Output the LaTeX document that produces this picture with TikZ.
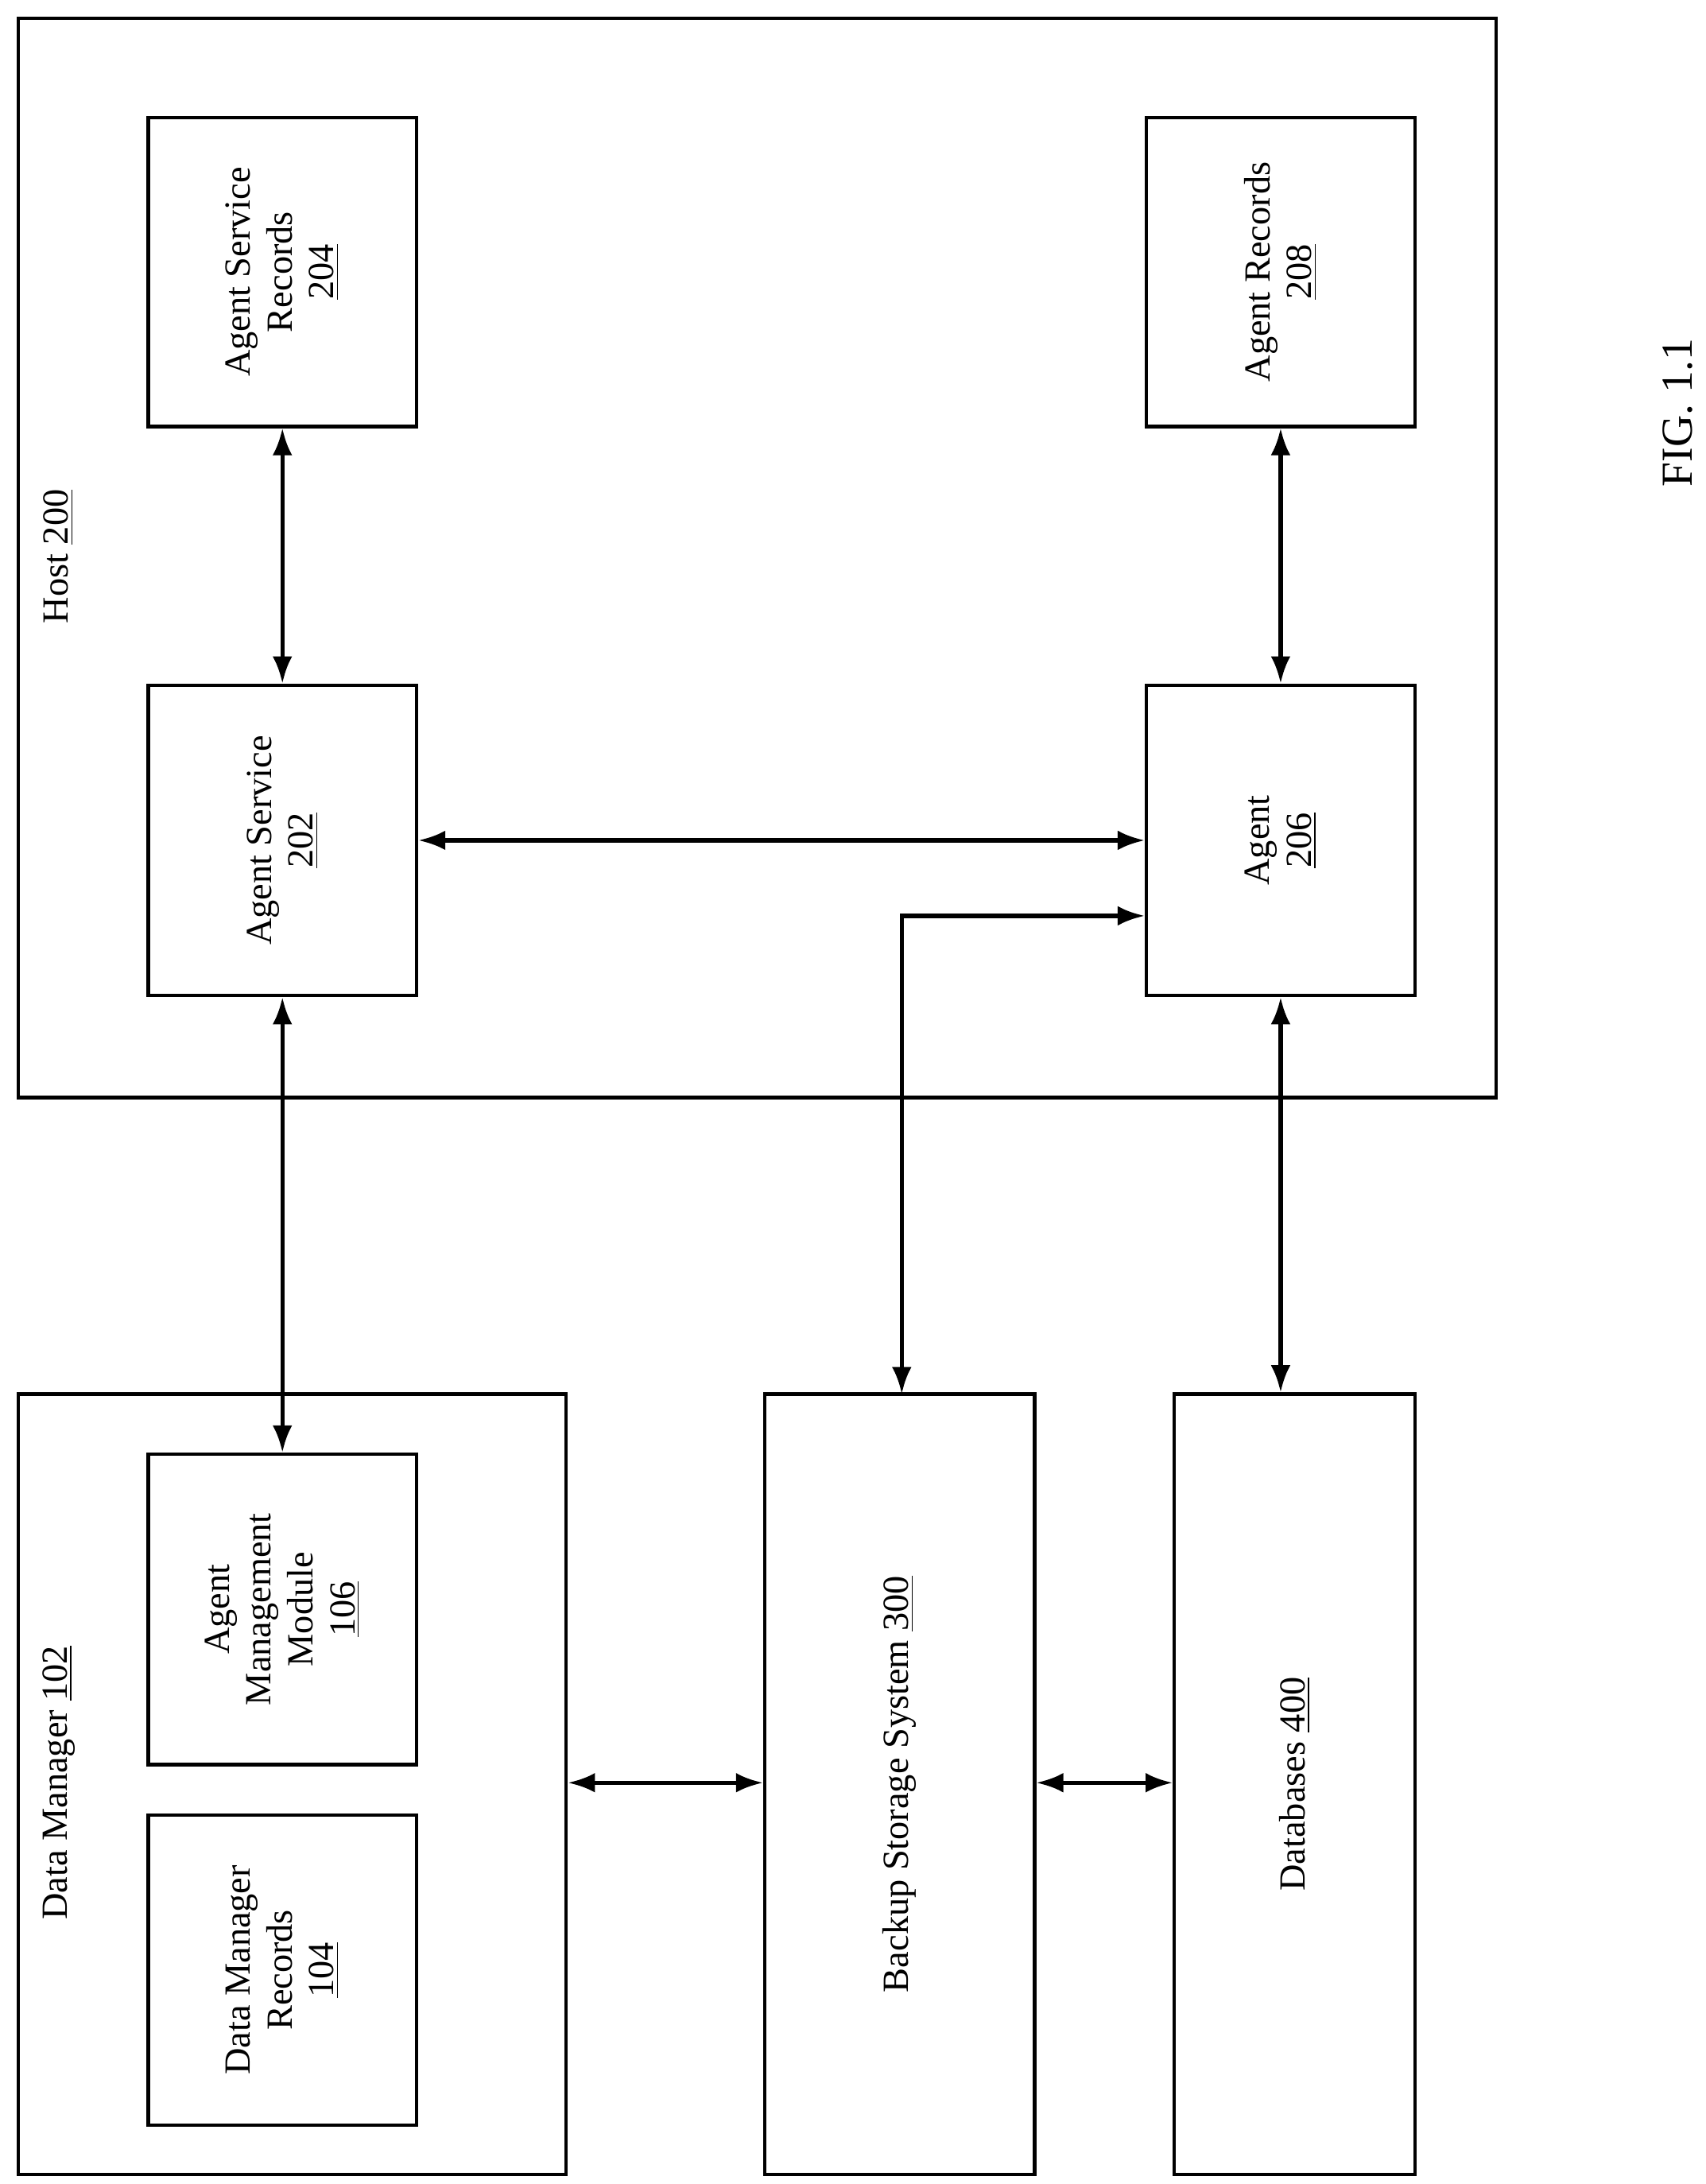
\documentclass[tikz,border=0pt]{standalone}
\usepackage{fontspec}
\setmainfont{Liberation Serif}
\usetikzlibrary{arrows.meta}
\begin{document}
\begin{tikzpicture}[x=0.02cm,y=-0.02cm,
 box/.style={draw,line width=1.4pt,inner sep=0pt},
 lbl/.style={rotate=90,align=center,font=\fontsize{15}{17}\selectfont},
 con/.style={line width=1.7pt,{Latex[length=11pt,width=8pt]}-{Latex[length=11pt,width=8pt]}}]
\useasboundingbox (0,0) rectangle (1220,1562);
\node[box,minimum width=1057*0.02cm,minimum height=772*0.02cm] (host) at (541.5,399) {};
\node[box,minimum width=392*0.02cm,minimum height=558*0.02cm] (dm) at (209,1276) {};
\foreach \n/\x/\y/\w/\h in {asr/202/194.5/192/221, ar/916/194.5/192/221, as/202/601/192/222, ag/916/601/192/222, amm/202/1151/192/222, dmr/202/1409/192/222, bss/643.5/1276/193/558, db/926/1276/172/558}
  \node[box,minimum width=\w*0.02cm,minimum height=\h*0.02cm] (\n) at (\x,\y) {};
\node[lbl] at (asr) {Agent Service\\Records\\\underline{204}};
\node[lbl] at (ar) {Agent Records\\\underline{208}};
\node[lbl] at (as) {Agent Service\\\underline{202}};
\node[lbl] at (ag) {Agent\\\underline{206}};
\node[lbl] at (amm) {Agent\\Management\\Module\\\underline{106}};
\node[lbl] at (dmr) {Data Manager\\Records\\\underline{104}};
\node[lbl] at (bss) {Backup Storage System \underline{300}};
\node[lbl] at (db) {Databases \underline{400}};
\node[lbl] (hl) at (42,398) {Host \underline{200}};
\node[lbl] (dl) at (42,1275) {Data Manager \underline{102}};
\node[lbl,font=\fontsize{18}{20}\selectfont] (fig) at (1200,295) {FIG. 1.1};
\draw[con] (asr.south) -- (as.north);
\draw[con] (ar.south) -- (ag.north);
\draw[con] (as.east) -- (ag.west);
\draw[con] (as.south) -- (amm.north);
\draw[con] (ag.south) -- (ag.south |- db.north);
\coordinate (bt) at (645,997);
\draw[con] (bt) |- (ag.west |- 0,655);
\draw[con] (dm.east |- 0,1275) -- (bss.west |- 0,1275);
\draw[con] (bss.east |- 0,1275) -- (db.west |- 0,1275);
\end{tikzpicture}
\end{document}
